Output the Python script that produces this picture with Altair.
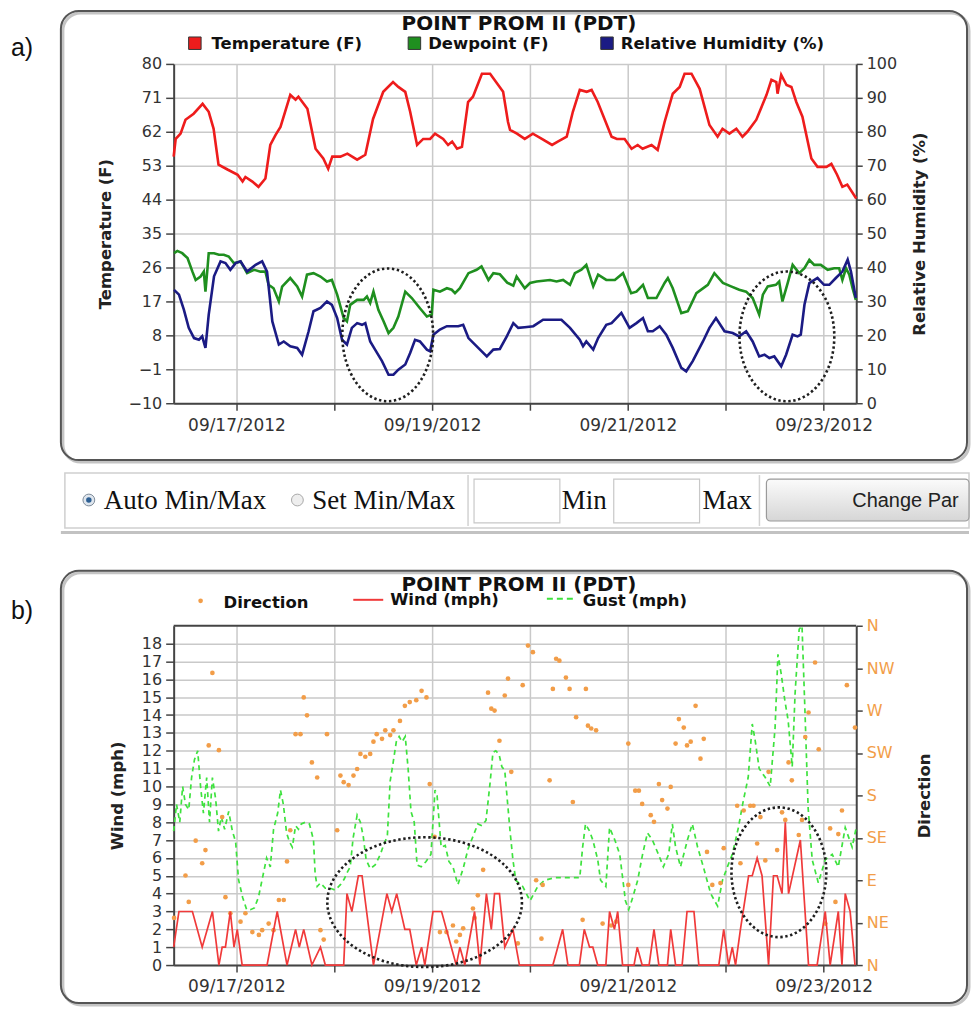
import altair as alt
import pandas as pd

# ---------------- data: panel a (hours since 09/16/2012 00:00 PDT) ----------------
TEMP_HOURS = [8.6, 9.1, 10.3, 11.5, 13.5, 15.7, 17.2, 18.4, 19.6, 21.8,
              24.3, 25.5, 26.2, 27.9, 29.4, 31.1, 32.3, 33.6, 34.8, 37.2,
              38.5, 39.2, 41.4, 43.4, 45.3, 46.5, 47.5, 49.5, 51.2, 53.6,
              55.6, 57.5, 60.0, 62.4, 63.7, 65.4, 66.6, 68.3, 69.8, 71.5,
              72.7, 74.7, 75.9, 76.9, 78.1, 79.3, 80.8, 82.0, 84.2, 86.2,
              89.4, 90.6, 91.1, 92.8, 94.7, 96.7, 98.9, 101.4, 102.8, 105.0,
              106.5, 108.2, 109.9, 111.1, 112.6, 116.0, 117.3, 119.2, 120.9, 122.4,
              123.6, 125.8, 127.3, 129.0, 131.0, 132.7, 133.9, 135.6, 137.6, 140.0,
              142.0, 143.2, 144.9, 146.6, 148.1, 149.3, 151.5, 154.0, 155.2, 156.4,
              156.7, 157.6, 158.9, 160.1, 161.3, 162.8, 165.0, 166.5, 168.7, 169.9,
              171.3, 172.6, 173.8, 176.0]
TEMP_F = [55.4, 60.1, 61.5, 65.2, 66.8, 69.4, 67.3, 62.8, 53.3, 52.0,
          50.6, 48.8, 50.0, 48.8, 47.4, 49.6, 58.5, 61.2, 63.3, 71.8,
          70.5, 71.3, 68.1, 57.5, 54.9, 52.2, 55.4, 55.4, 56.2, 54.6,
          55.9, 65.4, 72.6, 75.2, 73.9, 72.6, 67.3, 58.5, 60.1, 60.1,
          61.5, 60.1, 58.5, 59.4, 57.5, 58.0, 69.9, 71.3, 77.4, 77.4,
          72.6, 64.6, 62.5, 61.5, 60.1, 61.5, 60.1, 58.5, 59.4, 60.7,
          67.3, 73.1, 72.6, 73.1, 69.9, 60.7, 60.1, 60.1, 57.5, 58.5,
          57.5, 58.5, 57.2, 64.6, 72.1, 73.9, 77.4, 77.4, 73.4, 63.8,
          60.7, 62.8, 61.5, 62.8, 60.7, 62.0, 65.2, 71.8, 75.8, 75.2,
          72.1, 77.1, 74.4, 73.9, 69.9, 66.0, 54.9, 52.7, 52.7, 53.5,
          50.6, 47.4, 48.0, 44.3]

DEW_HOURS = [8.7, 9.5, 10.7, 12.0, 13.2, 14.0, 15.2, 16.0, 16.4, 16.9,
             17.2, 18.5, 19.7, 20.9, 22.1, 23.4, 25.0, 26.6, 28.3, 29.9,
             31.1, 31.9, 33.1, 34.4, 35.2, 37.2, 38.9, 40.1, 41.3, 42.9,
             44.6, 46.2, 47.4, 48.7, 50.3, 51.1, 51.9, 53.6, 55.2, 56.0,
             56.8, 57.6, 58.8, 60.1, 61.3, 62.5, 63.7, 65.4, 67.0, 69.0,
             70.7, 71.9, 72.3, 73.9, 75.6, 76.8, 77.6, 78.8, 80.9, 82.9,
             84.1, 85.8, 87.0, 88.6, 90.4, 91.9, 92.7, 94.7, 96.0, 97.6,
             100.9, 102.5, 104.1, 105.8, 107.0, 108.6, 109.8, 111.5, 112.7, 114.7,
             116.8, 118.8, 120.8, 122.1, 123.7, 124.9, 127.0, 129.0, 129.8, 131.0,
             133.1, 134.7, 136.8, 139.6, 141.2, 143.3, 145.3, 147.3, 149.0, 150.6,
             152.2, 153.1, 154.3, 156.3, 157.1, 157.9, 159.2, 160.4, 162.0, 163.3,
             164.5, 165.7, 167.3, 169.0, 170.6, 171.8, 172.6, 173.5, 174.3, 175.1,
             175.9]
DEW_F = [29.8, 30.4, 29.8, 28.5, 24.9, 22.7, 23.6, 24.9, 19.6, 25.8,
         29.8, 29.8, 29.4, 29.4, 28.9, 27.1, 27.6, 24.5, 25.4, 24.9,
         24.9, 21.4, 20.5, 17.0, 20.9, 23.2, 21.0, 18.3, 24.1, 24.5,
         23.6, 22.3, 22.7, 18.8, 12.6, 11.7, 16.1, 17.4, 17.4, 18.3,
         16.6, 19.6, 14.8, 11.7, 8.6, 10.0, 13.0, 19.6, 17.9, 15.2,
         13.0, 13.5, 20.1, 19.6, 20.5, 20.1, 19.2, 20.5, 24.5, 25.4,
         26.3, 22.7, 24.5, 24.2, 22.0, 21.2, 23.6, 20.5, 21.9, 22.3,
         22.7, 22.3, 22.7, 21.4, 24.5, 25.4, 26.7, 21.0, 24.1, 22.7,
         22.7, 24.5, 19.2, 19.6, 21.4, 17.9, 17.9, 21.9, 23.2, 20.5,
         13.9, 14.4, 19.2, 21.4, 24.5, 21.9, 21.0, 20.1, 19.6, 17.9,
         13.5, 18.8, 21.0, 21.4, 22.3, 17.0, 21.9, 26.7, 24.5, 25.8,
         28.0, 26.7, 26.7, 25.4, 25.8, 25.8, 22.7, 25.8, 24.1, 20.5,
         17.4]

RH_HOURS = [8.7, 9.9, 11.1, 12.3, 13.6, 14.8, 15.6, 16.4, 17.2, 18.5,
            20.1, 21.3, 22.5, 23.8, 25.0, 26.6, 28.7, 30.3, 31.5, 32.8,
            34.4, 35.6, 37.2, 38.9, 40.1, 41.7, 42.9, 44.6, 46.2, 47.4,
            48.7, 49.9, 51.1, 52.3, 53.6, 54.8, 55.6, 56.8, 58.0, 59.7,
            61.3, 62.5, 63.7, 65.4, 66.6, 67.8, 69.0, 70.7, 71.5, 72.3,
            73.9, 75.6, 78.4, 79.6, 80.9, 83.3, 85.4, 87.0, 88.6, 90.3,
            91.9, 93.1, 94.7, 96.8, 99.2, 103.7, 105.8, 108.2, 109.0, 109.8,
            111.5, 112.7, 114.7, 116.0, 118.4, 120.4, 122.1, 123.7, 124.9, 126.1,
            127.8, 129.4, 131.0, 133.1, 134.3, 135.9, 138.4, 140.0, 141.6, 143.7,
            145.7, 147.3, 149.0, 150.6, 152.2, 153.5, 154.7, 155.9, 157.6, 158.8,
            160.4, 161.6, 162.4, 163.3, 164.5, 166.5, 168.1, 169.4, 171.0, 172.6,
            173.9, 174.7, 175.9]
RH_PCT = [33.4, 32.0, 27.6, 22.2, 19.2, 18.7, 19.7, 16.3, 26.1, 37.4,
          41.8, 41.3, 39.3, 41.3, 41.8, 38.8, 40.8, 41.8, 38.8, 24.1,
          17.3, 18.2, 16.8, 16.3, 14.3, 21.2, 27.1, 28.1, 30.0, 29.0,
          25.1, 18.7, 17.3, 22.2, 23.6, 23.1, 23.6, 18.2, 15.8, 12.4,
          8.4, 8.4, 9.9, 11.4, 14.8, 18.7, 18.2, 15.8, 15.3, 20.2,
          21.7, 22.7, 22.7, 23.1, 19.2, 16.3, 13.8, 15.8, 16.0, 19.7,
          23.6, 22.2, 22.4, 22.7, 24.6, 24.6, 22.2, 18.7, 16.8, 18.2,
          15.8, 19.2, 23.1, 23.6, 26.6, 22.2, 23.6, 25.1, 21.2, 21.2,
          22.7, 20.2, 16.3, 10.4, 9.4, 12.4, 18.2, 22.2, 25.1, 21.2,
          20.7, 19.7, 21.2, 18.2, 13.8, 14.3, 13.3, 13.8, 10.9, 14.3,
          20.2, 19.7, 20.2, 29.0, 35.4, 36.9, 34.9, 34.9, 36.9, 38.8,
          42.3, 38.8, 31.0]

# ---------------- data: panel b ----------------
WIND_HOURS = [8.6, 9.9, 13.2, 15.6, 18.1, 19.7, 20.5, 21.3, 22.5, 23.4,
              24.2, 25.4, 31.5, 34.0, 36.4, 38.5, 39.4, 40.5, 42.5, 44.6,
              45.8, 50.3, 51.1, 52.3, 53.9, 54.8, 57.6, 60.9, 62.1, 63.3,
              65.3, 66.5, 68.1, 69.4, 70.2, 72.2, 74.3, 76.7, 77.9, 78.8,
              80.0, 82.4, 83.7, 85.3, 86.5, 87.3, 88.5, 89.8, 91.8, 93.4,
              101.6, 102.8, 104.0, 105.3, 108.1, 109.3, 110.6, 111.4, 112.6, 114.6,
              115.5, 116.7, 117.5, 118.7, 121.5, 122.3, 123.5, 125.2, 126.4, 127.6,
              129.7, 130.5, 131.7, 133.3, 134.5, 136.2, 137.4, 142.3, 143.5, 144.7,
              145.6, 146.4, 147.6, 149.6, 150.5, 151.7, 152.9, 154.5, 155.7, 156.6,
              157.8, 158.6, 159.4, 162.3, 164.3, 166.4, 168.4, 169.6, 171.6, 172.5,
              173.3, 174.5, 175.7]
WIND_MPH = [1, 3, 3, 1, 3, 0, 1, 1, 3, 1,
            2, 0, 0, 3, 0, 2, 1, 2, 0, 1,
            0, 0, 4, 3, 5, 5, 0, 4, 3, 4,
            2, 2, 0, 1, 0, 3, 3, 1, 0, 1,
            0, 3, 0, 4, 2, 4, 4, 1, 2, 0,
            0, 1, 2, 0, 0, 2, 1, 1, 0, 0,
            3, 2, 3, 0, 0, 1, 0, 0, 2, 0,
            0, 2, 0, 0, 3, 3, 0, 0, 2, 0,
            1, 0, 2, 5, 5, 6, 5, 0, 5, 5,
            4, 8, 4, 7, 0, 0, 3, 0, 3, 0,
            4, 3, 0]

GUST_HOURS = [8.6, 9.3, 10.1, 10.8, 11.5, 12.3, 13.0, 13.7, 14.5, 15.2,
              15.9, 16.7, 17.4, 18.1, 18.9, 19.6, 20.3, 21.1, 22.1, 23.0,
              23.8, 24.5, 25.5, 26.5, 27.4, 28.4, 29.4, 30.4, 31.4, 32.3,
              33.1, 34.1, 34.8, 35.5, 36.3, 37.0, 37.7, 38.5, 39.2, 39.9,
              40.9, 41.9, 42.9, 43.3, 43.8, 44.6, 45.8, 47.0, 48.2, 49.5,
              50.4, 51.2, 51.9, 52.6, 53.6, 54.4, 55.1, 55.8, 56.8, 58.0,
              59.3, 60.2, 61.0, 61.7, 62.4, 63.2, 63.9, 64.6, 65.4, 66.1,
              66.8, 67.6, 68.3, 69.3, 70.5, 71.7, 72.7, 73.2, 74.2, 75.2,
              76.1, 77.1, 78.3, 79.6, 80.8, 82.0, 83.2, 84.2, 85.2, 86.2,
              86.9, 87.6, 88.4, 89.1, 89.8, 90.6, 91.1, 91.8, 92.5, 94.2,
              96.0, 97.9, 99.6, 102.1, 104.5, 106.2, 108.2, 108.9, 109.6, 110.6,
              111.4, 112.6, 113.3, 114.6, 115.5, 116.8, 118.0, 119.4, 120.2, 121.2,
              122.4, 123.6, 124.8, 126.0, 127.5, 128.7, 130.0, 130.9, 131.7, 132.9,
              134.6, 135.8, 137.1, 138.5, 140.3, 142.0, 143.2, 144.4, 145.6, 147.1,
              148.3, 149.5, 150.5, 151.2, 152.2, 153.7, 154.9, 156.1, 156.8, 157.6,
              158.5, 159.3, 160.3, 161.0, 162.0, 162.7, 163.5, 164.2, 165.2, 166.7,
              168.4, 170.1, 171.6, 173.3, 175.0, 176.0]
GUST_MPH = [7.5, 9, 8, 10, 9, 8.7, 10.5, 11.5, 12, 10,
            8.5, 10.5, 8, 10.5, 9.3, 7.5, 8.3, 7.6, 8.6, 7.5,
            6.9, 4.8, 3.8, 3.1, 3.1, 3.2, 3.8, 4.9, 6, 5.5,
            7.6, 8.5, 9.8, 9, 7.4, 6.9, 6.6, 7.8, 7.6, 7.9,
            8, 7.9, 7, 5.1, 4.4, 4.6, 4.3, 4.3, 4.2, 4.5,
            4.8, 5.2, 5.5, 7.1, 8.4, 8, 7.2, 5.9, 5.4, 5.6,
            6.2, 6.8, 7.2, 10.3, 11.3, 12.5, 12.8, 12.5, 12.8, 11,
            8.6, 8, 5.6, 5.5, 5.8, 6.2, 9.8, 9.5, 6.6, 6.7,
            5.8, 5.5, 4.5, 5.4, 6.5, 7.2, 7.9, 7.8, 8.1, 10.2,
            11.9, 12, 11.8, 11.1, 10.9, 8.8, 7.5, 5.9, 4.75, 4.4,
            3.6, 4.4, 4.75, 4.9, 4.9, 4.9, 4.9, 6.6, 7.9, 7.5,
            7, 5.9, 4.75, 4.4, 7.7, 7, 6.2, 3.6, 3.1, 3.8,
            4.75, 6.2, 7.4, 7, 6.2, 5.5, 6.2, 7.9, 6.6, 5.5,
            7, 7.9, 6.6, 5.5, 4, 3.3, 4.75, 5.5, 6.2, 7.7,
            9.2, 10.5, 13.5, 12.6, 11, 10.5, 10, 13.3, 17.4, 16.3,
            14.8, 13.7, 11.1, 15.2, 18.8, 19, 13.7, 8.8, 5.9, 4.6,
            5.9, 6.2, 5.5, 7.7, 6.6, 7.7]

DIR_HOURS = [8.7, 11.5, 12.3, 14.0, 15.6, 16.4, 17.2, 18.1, 19.7, 20.5,
             21.3, 22.5, 25.0, 26.2, 27.9, 29.5, 30.3, 31.9, 33.1, 34.4,
             35.6, 36.4, 37.2, 38.5, 39.7, 40.5, 41.3, 42.5, 43.8, 44.6,
             45.4, 46.2, 48.7, 49.5, 50.3, 51.5, 52.7, 53.6, 54.4, 55.6,
             56.8, 57.6, 58.4, 59.7, 60.5, 61.7, 62.5, 64.1, 65.3, 66.5,
             68.1, 69.4, 70.6, 71.4, 72.6, 73.9, 75.5, 77.1, 77.9, 78.8,
             79.6, 82.0, 82.4, 83.2, 84.5, 85.7, 86.5, 87.3, 88.5, 89.8,
             90.6, 91.4, 93.0, 94.2, 95.5, 96.7, 97.5, 98.8, 99.1, 100.8,
             101.6, 102.4, 103.2, 104.8, 105.7, 106.5, 107.3, 108.9, 109.7, 110.2,
             111.0, 112.2, 113.8, 115.9, 117.1, 120.1, 120.1, 121.8, 122.7, 123.5,
             125.6, 126.4, 127.6, 128.4, 129.7, 130.5, 131.7, 132.5, 133.7, 134.5,
             135.4, 136.6, 137.8, 138.6, 139.4, 140.7, 142.7, 143.5, 146.8, 147.6,
             148.4, 150.0, 150.8, 151.7, 152.5, 153.7, 154.5, 156.6, 157.8, 158.6,
             159.4, 160.2, 161.9, 162.7, 163.5, 164.3, 165.9, 166.8, 168.4, 169.6,
             170.9, 171.6, 172.5, 173.7, 175.7]
DIR_DEG = [50, 95, 67, 132, 108, 122, 233, 310, 228, 157,
           72, 55, 46, 55, 35, 32, 37, 44, 37, 69,
           69, 110, 143, 245, 245, 284, 265, 215, 199, 37,
           27, 245, 143, 201, 194, 191, 201, 208, 224, 221,
           224, 237, 245, 240, 249, 244, 249, 259, 275, 279,
           281, 291, 284, 192, 136, 35, 35, 42, 25, 32,
           39, 60, 50, 74, 101, 289, 272, 270, 238, 286,
           304, 205, 23, 297, 339, 332, 90, 28, 85, 196,
           293, 325, 323, 305, 293, 173, 263, 48, 293, 254,
           251, 249, 44, 42, 46, 235, 85, 185, 185, 171,
           159, 152, 192, 175, 166, 189, 235, 261, 252, 233,
           237, 275, 219, 240, 120, 85, 87, 124, 169, 108,
           164, 169, 169, 129, 157, 111, 205, 122, 162, 154,
           215, 196, 138, 154, 242, 268, 321, 229, 44, 145,
           67, 139, 164, 297, 252]

# ---------------- axis settings ----------------
X_DOMAIN = [8.6, 176.0]
DAY_TICKS = [24, 48, 72, 96, 120, 144, 168]
TEMP_DOMAIN = [-10, 80]
TEMP_TICKS = [-10, -1, 8, 17, 26, 35, 44, 53, 62, 71, 80]
RH_DOMAIN = [0, 100]
RH_TICKS = list(range(0, 101, 10))
WIND_DOMAIN = [0, 19]
WIND_TICKS = list(range(0, 19))
DIR_DOMAIN = [0, 360]
DIR_TICKS = list(range(0, 361, 45))

TITLE = "POINT PROM II (PDT)"
FONT = "DejaVu Sans"
W, H = 684, 340
AXIS_DARK = "#444444"
GRID = "#c9c9c9"

C_TEMP = "#ee1c1c"
C_DEW = "#1f8f1f"
C_RH = "#1b1b84"
C_WIND = "#f03a3a"
C_GUST = "#3ee23e"
C_DIR = "#f29d48"

ONE = pd.DataFrame({"k": [0]})


def xenc():
    return alt.X(
        "h:Q",
        scale=alt.Scale(domain=X_DOMAIN, nice=False, zero=False),
        axis=alt.Axis(
            values=DAY_TICKS,
            labelExpr="(datum.value / 24) % 2 == 1 ? '09/' + (16 + datum.value / 24) + '/2012' : ''",
            title=None, grid=True, gridColor=GRID, gridWidth=1.5,
            domainColor=AXIS_DARK, domainWidth=2, tickColor=AXIS_DARK, tickWidth=1.5,
            tickSize=7, labelPadding=7, labelFont=FONT, labelFontSize=17,
            labelColor="#333333", labelFlush=False, labelOverlap=False,
        ),
    )


def yaxis(title, ticks, orient, title_x, grid, label_color="#333333", label_expr=None):
    kw = dict(
        values=ticks, orient=orient, title=title, grid=grid,
        domainColor=AXIS_DARK, domainWidth=2, tickColor=AXIS_DARK, tickWidth=1.5,
        tickSize=8 if orient == "left" else 6, labelPadding=4,
        labelFont=FONT, labelFontSize=16, labelColor=label_color,
        labelOverlap=False, labelFlush=False,
        titleFont=FONT, titleFontSize=16.5, titleFontWeight="bold", titleColor="#222222",
        titleX=title_x, titleY=H / 2, titleAngle=270, titleAlign="center",
        titleBaseline="middle",
    )
    if grid:
        kw.update(gridColor=GRID, gridWidth=1.5)
    if label_expr:
        kw["labelExpr"] = label_expr
    return alt.Axis(**kw)


def rect(x, x2, y, y2, **kw):
    return alt.Chart(ONE).mark_rect(**kw).encode(
        x=alt.value(x), x2=alt.value(x2), y=alt.value(y), y2=alt.value(y2))


def rule(x, x2, y, y2, **kw):
    return alt.Chart(ONE).mark_rule(**kw).encode(
        x=alt.value(x), x2=alt.value(x2), y=alt.value(y), y2=alt.value(y2))


def text(s, x, y, **kw):
    opts = dict(font=FONT, fontSize=16.5, fontWeight="bold", color="#111111",
                align="left", baseline="alphabetic")
    opts.update(kw)
    return alt.Chart(ONE).mark_text(text=s, **opts).encode(x=alt.value(x), y=alt.value(y))


def dot(x, y, **kw):
    opts = dict(filled=True, opacity=1)
    opts.update(kw)
    return alt.Chart(ONE).mark_point(**opts).encode(x=alt.value(x), y=alt.value(y))


def ellipse(x, y, rx, ry):
    r = max(rx, ry)
    a, b, k = rx / r, ry / r, 0.5523
    path = (f"M {a:.3f} 0 C {a:.3f} {k*b:.3f} {k*a:.3f} {b:.3f} 0 {b:.3f} "
            f"C {-k*a:.3f} {b:.3f} {-a:.3f} {k*b:.3f} {-a:.3f} 0 "
            f"C {-a:.3f} {-k*b:.3f} {-k*a:.3f} {-b:.3f} 0 {-b:.3f} "
            f"C {k*a:.3f} {-b:.3f} {a:.3f} {-k*b:.3f} {a:.3f} 0 Z")
    return alt.Chart(ONE).mark_point(
        shape=path, size=(2 * r) ** 2, filled=False, opacity=1,
        stroke="#1e1e1e", strokeWidth=2.6, strokeDash=[2.4, 2.6],
    ).encode(x=alt.value(x), y=alt.value(y))


def panel_frame(top, bottom):
    return [
        rect(-111, 797, top + 2, bottom + 2, cornerRadius=18, fill="transparent",
             stroke="#c4c4c4", strokeWidth=3),
        rect(-113, 795, top, bottom, cornerRadius=18, fill="transparent",
             stroke="#555555", strokeWidth=2),
    ]


# ---------------- panel a ----------------
temp_layer = alt.Chart(pd.DataFrame({"h": TEMP_HOURS, "v": TEMP_F})).mark_line(
    color=C_TEMP, strokeWidth=2.6).encode(
    x=xenc(),
    y=alt.Y("v:Q", scale=alt.Scale(domain=TEMP_DOMAIN, nice=False, zero=False),
            axis=yaxis("Temperature (F)", TEMP_TICKS, "left", -68, True)))

dew_layer = alt.Chart(pd.DataFrame({"h": DEW_HOURS, "v": DEW_F})).mark_line(
    color=C_DEW, strokeWidth=2.6).encode(
    x=xenc(),
    y=alt.Y("v:Q", scale=alt.Scale(domain=TEMP_DOMAIN, nice=False, zero=False), axis=None))

rh_layer = alt.Chart(pd.DataFrame({"h": RH_HOURS, "v": RH_PCT})).mark_line(
    color=C_RH, strokeWidth=2.6).encode(
    x=xenc(),
    y=alt.Y("v:Q", scale=alt.Scale(domain=RH_DOMAIN, nice=False, zero=False),
            axis=yaxis("Relative Humidity (%)", RH_TICKS, "right", 63, False)))

serif = dict(font="Liberation Serif", fontSize=27, fontWeight="normal", color="#111111")

layers_a = [rect(-165, 799, -54, 503, opacity=0)] + panel_frame(-53, 397) + [
    dew_layer, rh_layer, temp_layer,
    ellipse(214.5, 271.5, 45.5, 66.5),
    ellipse(614.5, 273, 47.5, 65),
    text("a)", -163, -8, font="Liberation Sans", fontSize=25, fontWeight="normal"),
    text(TITLE, 346, -34, fontSize=20, align="center"),
    rect(15, 27.5, -27, -14.5, fill=C_TEMP, stroke="#333333", strokeWidth=1),
    text("Temperature (F)", 38, -15),
    rect(235, 247.5, -27, -14.5, fill=C_DEW, stroke="#333333", strokeWidth=1),
    text("Dewpoint (F)", 255, -15),
    rect(428, 440.5, -27, -14.5, fill=C_RH, stroke="#333333", strokeWidth=1),
    text("Relative Humidity (%)", 448, -15),
    # control strip below the chart
    rect(-109, 797, 410, 465, fill="transparent", stroke="#cfcfcf", strokeWidth=1.5),
    rect(-113, 797, 468, 471, fill="#c2c2c2"),
    dot(-85, 437, shape="circle", size=140, fill="#dfe6ee", stroke="#7d8b99", strokeWidth=1),
    dot(-85, 437, shape="circle", size=30, fill="#2d5f93"),
    text("Auto Min/Max", -70, 446, **serif),
    dot(124, 437, shape="circle", size=140, fill="#eeeeee", stroke="#a8a8a8", strokeWidth=1),
    text("Set Min/Max", 139, 446, **serif),
    rule(295, 295, 412, 463, color="#d2d2d2", strokeWidth=1.5),
    rect(301, 387, 416, 460, fill="white", stroke="#c8c8c8", strokeWidth=1.2),
    text("Min", 389, 446, **serif),
    rect(441, 527, 416, 460, fill="white", stroke="#c8c8c8", strokeWidth=1.2),
    text("Max", 530, 446, **serif),
    rule(587, 587, 412, 463, color="#d2d2d2", strokeWidth=1.5),
    rect(594, 797, 416, 458, cornerRadius=4, stroke="#9a9a9a", strokeWidth=1.2,
         fill=alt.Gradient(gradient="linear", x1=0, x2=0, y1=0, y2=1,
                           stops=[alt.GradientStop(color="#fbfbfb", offset=0),
                                  alt.GradientStop(color="#d6d6d6", offset=1)])),
    text("Change Par", 680, 444, font="Liberation Sans", fontSize=20,
         fontWeight="normal", color="#222222"),
]

panel_a = alt.layer(*layers_a).resolve_scale(y="independent").properties(width=W, height=H)

# ---------------- panel b ----------------
gust_layer = alt.Chart(pd.DataFrame({"h": GUST_HOURS, "v": GUST_MPH})).mark_line(
    color=C_GUST, strokeWidth=1.7, strokeDash=[5, 4]).encode(
    x=xenc(),
    y=alt.Y("v:Q", scale=alt.Scale(domain=WIND_DOMAIN, nice=False, zero=False), axis=None))

dir_layer = alt.Chart(pd.DataFrame({"h": DIR_HOURS, "v": DIR_DEG})).mark_circle(
    color=C_DIR, size=22, opacity=1).encode(
    x=xenc(),
    y=alt.Y("v:Q", scale=alt.Scale(domain=DIR_DOMAIN, nice=False, zero=False),
            axis=yaxis("Direction", DIR_TICKS, "right", 68, False, label_color=C_DIR,
                       label_expr="['N','NE','E','SE','S','SW','W','NW','N'][round(datum.value / 45)]")))

wind_layer = alt.Chart(pd.DataFrame({"h": WIND_HOURS, "v": WIND_MPH})).mark_line(
    color=C_WIND, strokeWidth=1.7).encode(
    x=xenc(),
    y=alt.Y("v:Q", scale=alt.Scale(domain=WIND_DOMAIN, nice=False, zero=False),
            axis=yaxis("Wind (mph)", WIND_TICKS, "left", -56, True)))

layers_b = [rect(-165, 799, -58, 382, opacity=0)] + panel_frame(-55, 378) + [
    gust_layer, dir_layer, wind_layer,
    rule(0, W, 0, 0, color=AXIS_DARK, strokeWidth=2),
    ellipse(251.5, 277, 97.5, 65),
    ellipse(606.5, 247, 47.5, 65),
    text("b)", -163, -7, font="Liberation Sans", fontSize=25, fontWeight="normal"),
    text(TITLE, 346, -35, fontSize=20, align="center"),
    dot(27, -25, shape="circle", size=22, fill=C_DIR),
    text("Direction", 50, -18),
    rule(180, 210, -26, -26, color=C_WIND, strokeWidth=2),
    text("Wind (mph)", 217, -21),
    rule(374, 404, -27, -27, color=C_GUST, strokeWidth=2, strokeDash=[6, 4]),
    text("Gust (mph)", 410, -20),
]

panel_b = alt.layer(*layers_b).resolve_scale(y="independent").properties(width=W, height=H)

chart = alt.vconcat(panel_a, panel_b, spacing=0).properties(
    padding=0, background="white").configure_view(stroke="transparent")

chart.save("out.html", embed_options={"renderer": "svg", "actions": False})
